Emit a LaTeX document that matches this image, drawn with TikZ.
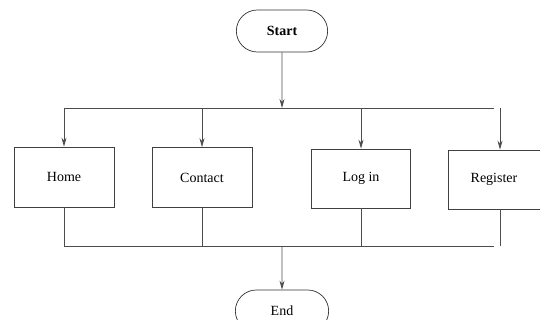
\documentclass[tikz,border=0pt]{standalone}
\usepackage{fontspec}
\setmainfont{Liberation Serif}
\usetikzlibrary{positioning, shapes.misc, arrows.meta}

\tikzset{
  page/.style={rectangle, draw=black!75, line width=0.7pt, minimum width=100pt, minimum height=60pt, font=\fontsize{14}{16}\selectfont},
  terminal/.style={rounded rectangle, draw=black!80, line width=0.7pt, minimum width=98pt, minimum height=42pt, font=\fontsize{14}{16}\selectfont},
  link/.style={draw=black!70, line width=0.8pt},
}

\begin{document}
\begin{tikzpicture}[>={Stealth[length=9pt, width=5pt]}, x=1pt, y=-1pt]

      \useasboundingbox (0, 0) rectangle (540, 320);

      \node[terminal] (start) at (282, 31) {\textbf{Start}};

      \node[page] (home) at (64, 177) {Home};
      \node[page] (contact) at (202, 177.5) {Contact};
      \node[page, minimum width=99pt, minimum height=59pt] (login) at (361, 178.5) {Log in};
      \node[page, minimum width=92pt, minimum height=59pt] (register) at (494, 179.5) {Register};

      \node[terminal, minimum width=100pt] (end) at (282, 311) {End};

      \coordinate (fork) at (282, 108);
      \coordinate (join) at (282, 246);

      \draw[link, ->] (start) -- (fork);
      \draw[link] (fork -| home) -- (fork -| register);
      \foreach \n/\x in {home/64, contact/202, login/361, register/500} {
        \draw[link, ->] (\x, 108) -- (\n.north -| {(\x, 0)});
        \draw[link] (\n.south -| {(\x, 0)}) -- (\x, 246);
      }
      \draw[link] (join -| home) -- (join -| register);
      \draw[link, ->] (join) -- (end);

    \end{tikzpicture}
\end{document}
